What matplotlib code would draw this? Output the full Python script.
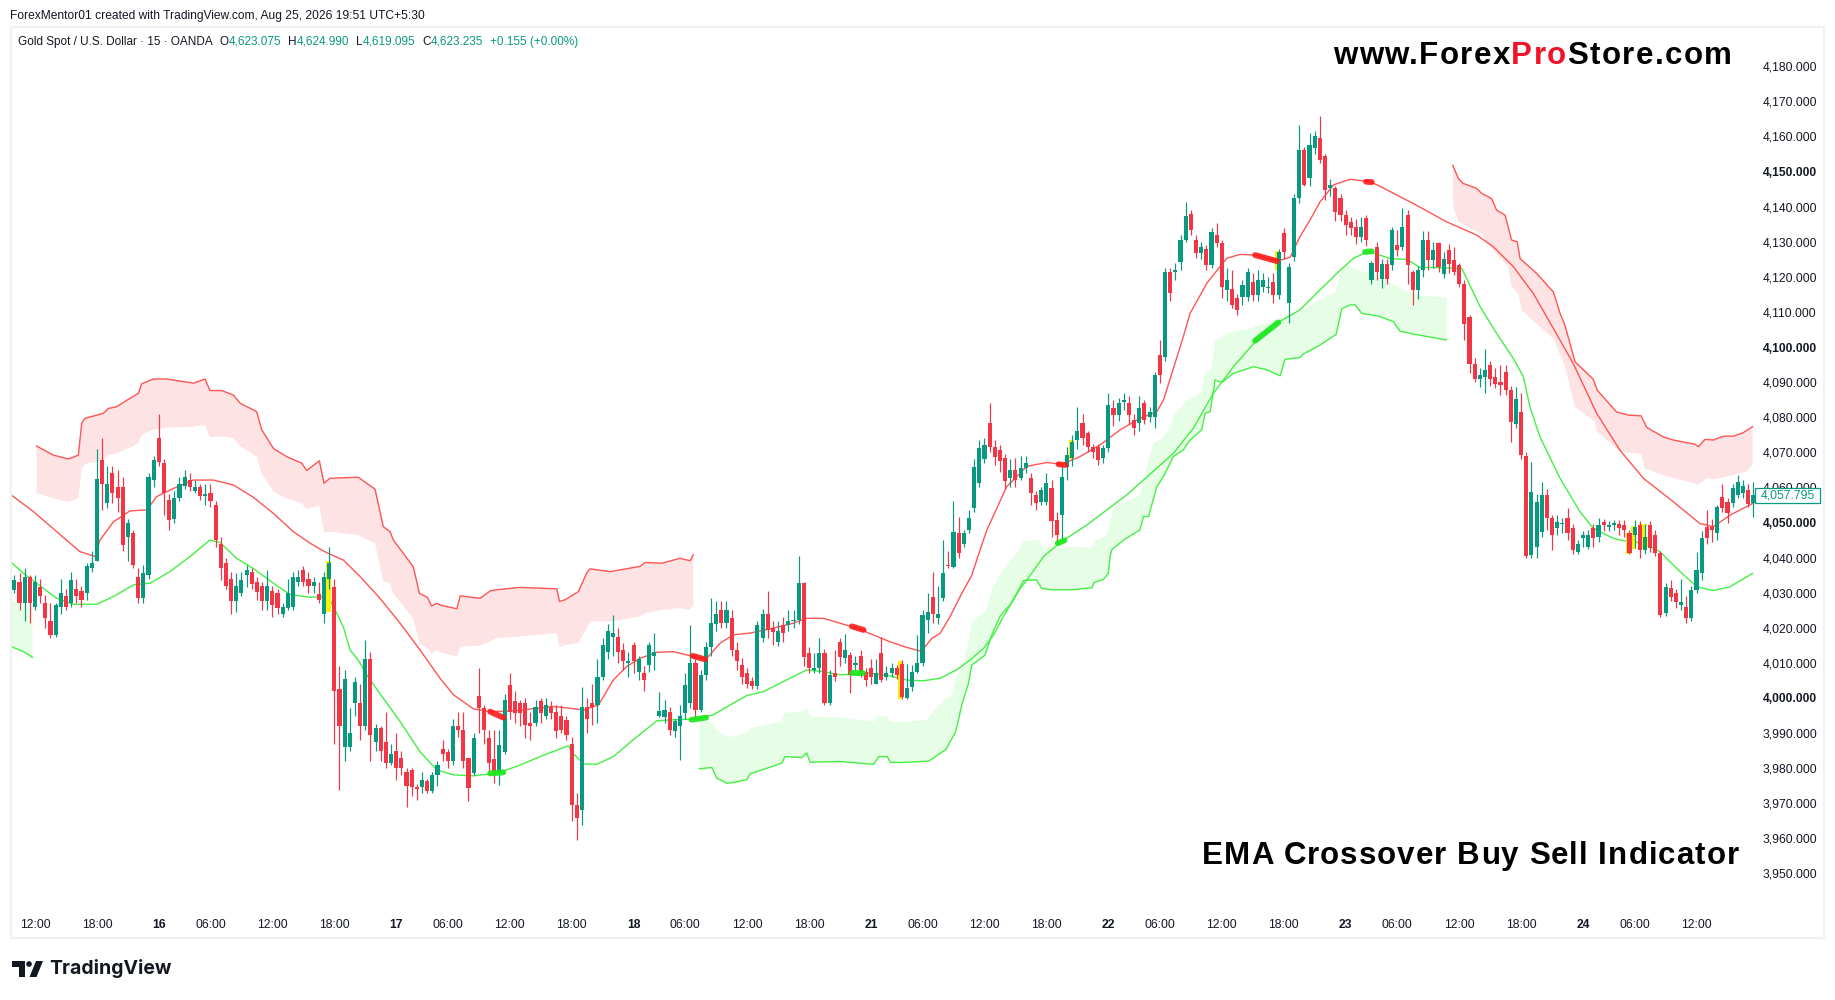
import numpy as np
import matplotlib
matplotlib.use('Agg')
import matplotlib.pyplot as plt
from matplotlib.font_manager import FontProperties
from matplotlib.patches import Rectangle, Circle, Polygon

# candles are sampled every 2 bars, first one at bar -8
opens = [
    4030.8,4033,4027,4034.5,4026,4031.5,4027,4022,4018,4026,
    4029,4027,4031,4030.5,4030,4037,4039,4067.8,4055.5,4064,
    4060,4060,4046,4047,4034.5,4028.5,4035,4062,4074,4067,
    4056.4,4051,4057,4060.5,4062,4059,4060,4057.5,4058.5,4055,
    4044,4038.5,4034,4027.5,4030,4035,4036,4033,4032,4027.5,
    4030.5,4030,4024,4025.5,4026,4033,4036.5,4034,4032,4029.5,
    4024,4034,4031.7,4002.5,3986,3986,3998.5,3998.5,3992,4011,
    3987.5,3991.5,3987.5,3981.5,3985,3983,3979,3979.5,3974.5,3974.5,
    3976.3,3973.5,3978,3985.5,3984.5,3982,3992,3991,3982.8,3978.6,
    4000.5,3997,3988.5,3982.5,3979,3984.7,4003.7,3999,3998.5,3998.5,
    3993,3993,3999,3995,3997.5,3996,3995,3993.8,3987,3969.5,
    3968,3997.5,3998.5,3998,4006,4013,4017.5,4017.5,4013.7,4009.9,
    4015,4007.5,4007,4009.4,4012,3995,3994.7,3996,3990.5,3992,
    3995.7,3998.5,4009.9,3996.6,4006.5,4014.6,4021,4025,4021.3,4022.7,
    4013.7,4009.4,4007,4004.7,4003.3,4017,4024,4019.9,4016,4020.8,
    4020.8,4021.8,4022.3,4032.7,4012.8,4008,4008.5,4012.8,3998.5,4007,
    4016,4011.3,4012.3,4009.4,4012,4007.5,4008.5,4004,4012.8,4006,
    4007,4008.5,4009.7,4000,4003.2,4007.5,4010,4022.2,4028.7,4022.7,
    4028.4,4038,4037.4,4046.9,4044,4047.9,4054.1,4061.2,4068,4078.3,
    4071.6,4070.7,4068.3,4062.6,4065,4062.6,4065.5,4062.6,4057.8,4055.9,
    4055.9,4059.8,4050.8,4052,4065.9,4068.3,4073.5,4078.3,4075.4,4071.6,
    4071.6,4068.3,4071.2,4082.6,4080.7,4084.2,4084,4079.2,4078.3,4084,
    4080.2,4080.2,4097.7,4097.3,4121.5,4121.5,4124.3,4130.5,4138,4130.5,
    4126.7,4128,4123.4,4131.9,4129.6,4116.3,4116.5,4114,4114.4,4114.4,
    4118.6,4114.8,4117.2,4116.8,4118.6,4114.8,4132.4,4112.6,4125.8,4142.4,
    4156.2,4148.1,4156.6,4159.5,4154.3,4145.2,4145.2,4142.4,4137.6,4135.7,
    4134.3,4131.5,4136.7,4119.1,4128.6,4119.5,4123.8,4123.3,4129,4128.6,
    4137.6,4121.4,4116.2,4122,4130.5,4124.8,4129.7,4120.8,4127.6,4124.8,
    4123.3,4118.1,4108.6,4095.3,4091,4091.5,4094.9,4091.5,4090,4092.9,
    4087.7,4078.2,4081.5,4068.9,4040.7,4043.1,4047.3,4057.8,4051.2,4048.3,
    4049.5,4051.2,4048.3,4041.7,4045.5,4043.1,4048.3,4045.9,4050.2,4048.8,
    4049.4,4049.7,4049.3,4046.9,4046.4,4049.3,4042.1,4049.3,4046.4,4041.2,
    4024.1,4031.2,4029.8,4026.5,4026,4022.7,4030.8,4035.5,4048.8,4048.8,
    4047,4057.3,4055.9,4055.5,4057.8,4058.5,4059.2,4055.5,
]
closes = [
    4033.6,4027,4034.5,4027,4033,4029,4022.7,4018,4026.5,4030,
    4026,4033.5,4029,4028,4037.5,4038.5,4062.5,4061,4061,4058.5,
    4057,4043.5,4050,4038,4028.5,4035.5,4063,4067.8,4067.3,4058.3,
    4050.7,4057,4061,4063,4060,4060,4057.5,4058,4056,4045,
    4037,4032,4027.5,4032,4033.5,4036.5,4032.5,4030.3,4027.5,4032,
    4026.5,4025.5,4026,4030,4034.5,4034.5,4033,4032,4033,4028,
    4034.5,4038.5,4002,3992,4005.5,3990,4004.5,3992,4011,3989.5,
    3991.5,3985,3981.5,3984,3980,3980,3975,3974.7,3974,3976.5,
    3973.5,3978,3981,3984,3982,3992,3991,3982,3974.3,3988.5,
    3997,3991,3981.5,3979,3986.6,3999.5,3996,3995.7,3995.7,3992.3,
    3992,3997.5,3995.7,3998,3995.7,3990.5,3991,3989.5,3969.5,3965.8,
    3997.5,3994,3997.5,4006,4015,4019,4018.5,4013,4010.4,4010.4,
    4010.4,4011,4005,4015,4013,3996.2,3996.6,3991,3993.3,3995,
    4003.7,4010,3996.6,4006.6,4014.6,4021.5,4024,4021.3,4025,4013.7,
    4010.4,4006,4004,4003.3,4020.8,4024,4019.4,4018.9,4019,4018.5,
    4021.8,4022.3,4032.7,4011.8,4008.5,4008.5,4012.8,3998.5,4006.6,4006,
    4011.8,4013.7,4006.6,4009.9,4007.5,4005,4006,4007,4005,4007,
    4008.5,4006.6,4000.4,4002.7,4007.5,4010,4023.6,4024.6,4024,4024,
    4035.5,4037.5,4047.4,4041.2,4046.9,4051.2,4065.9,4071.2,4072.1,4071.6,
    4068.8,4067.4,4061.7,4065,4062.1,4065.5,4066.9,4058.3,4055.5,4059.3,
    4061.2,4050.3,4046.5,4063,4069.2,4073,4076,4074,4071.6,4070.2,
    4067.8,4071.2,4083.5,4080.7,4084,4084.8,4080.7,4076.9,4082.6,4079.2,
    4081.6,4092,4092,4121.5,4115.3,4122,4130.5,4137.2,4133.4,4126.7,
    4128.6,4123.4,4132.9,4129.6,4117.2,4119.1,4112,4110.6,4117.7,4121.5,
    4114.8,4119.1,4119.1,4117.2,4114.8,4127.2,4127.2,4122.9,4142.4,4156.2,
    4146.2,4157.6,4160,4153.3,4144.8,4146.2,4138.6,4137.6,4134.8,4133.8,
    4131.5,4134.3,4130.5,4123.9,4121.5,4123.8,4119.5,4133.3,4127.6,4134.2,
    4123.3,4116.2,4121.9,4130.5,4124.8,4127.6,4122.9,4125.2,4123.8,4121.4,
    4118.1,4106.7,4095.3,4091,4092,4093.4,4091,4089.6,4089.1,4087.7,
    4078.7,4085.3,4069.2,4040.5,4058.8,4055.9,4057.8,4051.2,4046.4,4050.2,
    4050,4046.9,4042.1,4044,4046.5,4046.4,4045.5,4049.3,4049.3,4049.3,
    4049.9,4048.3,4047.8,4041.2,4048.8,4042.1,4045.9,4042.6,4041.2,4023.6,
    4031.7,4028.8,4027.4,4027.4,4022.7,4030.8,4036.5,4045.5,4045.5,4047.8,
    4054.5,4054,4052.6,4059.7,4061.6,4060.5,4055.2,4057.8,
]
highs = [
    4035,4035.5,4037,4035,4035,4034,4029.3,4027,4027,4034,
    4031,4036,4034,4032,4038.5,4042,4071,4074,4066,4066,
    4065,4063,4051,4048,4037,4038,4064,4069,4081,4068,
    4058,4059,4063,4065,4064,4062,4061,4061,4061,4056,
    4046,4040,4036,4035.5,4036,4038,4037,4034.5,4033,4036.5,
    4032,4031,4027,4034,4036,4036.5,4037.5,4036,4034.5,4033,
    4036,4043,4034,4009,4008,3997,4006,4004,4016.5,4013,
    3992.5,3992,3996,3987,3990,3985,3980,3980,3975.5,3979,
    3977,3979,3982,3988,3985.5,3994,3996,3996,3983,3990,
    4008.5,3998,3991,3991,3991,4001,4007,4002,3999.5,4000,
    3996,3999.5,4000,4000,3999,3998,3998,3995,3989,3972.8,
    4003,4000,4004,4011,4017,4021,4023.7,4020,4015.6,4013,
    4016,4012,4009,4016,4018.5,4001.8,3999.5,3997.5,3994,3998,
    4007,4020.8,4011,4008,4016,4028.5,4027.5,4027.5,4027.5,4025,
    4016,4011.5,4008.5,4006,4022,4025.4,4030.5,4022,4022,4023.2,
    4025,4025,4040.5,4033,4014.6,4012.8,4017,4014,4008,4013.7,
    4017,4018.3,4013,4012,4013.7,4008.5,4011,4011,4017.5,4009,
    4010,4009.5,4010.7,4009.7,4009.4,4018,4025,4029.8,4036,4032,
    4045,4042,4056,4051.7,4048,4053.5,4068,4073.5,4074,4084,
    4073.5,4072,4069.5,4068,4068.5,4069,4069,4064,4059,4060,
    4064,4062,4053,4066.5,4071.6,4075,4083,4081,4076,4072.5,
    4072.5,4072,4087,4085,4085.5,4087,4086,4081,4086,4085,
    4083,4093,4102,4122.5,4122.5,4124,4132,4141.4,4139,4132,
    4130,4129,4134,4135.3,4130.5,4122.5,4122,4115,4119,4122.6,
    4121,4122,4121,4120,4121,4128,4133.8,4124,4143.5,4163.3,
    4157,4161,4161.5,4165.9,4155,4148,4146,4143.5,4139,4137,
    4136.5,4137,4137.5,4124.5,4130,4125,4125,4134.2,4133.3,4139.5,
    4139,4122,4123,4133,4133,4130,4130,4127,4129.5,4128.5,
    4124,4119,4109,4097,4094,4099.4,4096,4094,4095,4094.9,
    4089,4088.7,4086.8,4070,4067.3,4058,4061.6,4059.5,4052,4052,
    4051.2,4054,4049.5,4045,4047.5,4048,4049.5,4051.2,4051,4050.5,
    4050.8,4050.8,4050.8,4047.8,4050.6,4050.5,4049.7,4050.5,4048,4042,
    4032.8,4033.5,4031,4034,4029,4032,4041.5,4047.5,4053.5,4051,
    4055,4061,4057,4061,4063.5,4062,4061,4061.6,
]
lows = [
    4030,4025,4022,4021.5,4025,4027,4020,4017,4017.5,4024,
    4025,4026,4027,4026,4028,4036,4039,4053.6,4054,4055.5,
    4053,4042,4039,4037,4027,4027,4034,4060,4066,4052,
    4048,4050,4056,4059.5,4059,4058.5,4056.5,4055,4054.5,4043,
    4033.5,4031,4024,4024.5,4029,4031.5,4031,4028,4025,4025,
    4023,4024,4023,4025,4025,4032,4032,4030,4030,4027,
    4021.5,4031,3987,3973.8,3982,3985,3995,3988,3991,3982,
    3985,3982,3980,3981,3976.5,3978,3969,3972,3971,3973,
    3973,3973,3975,3982,3980,3981,3989,3980,3970.5,3978,
    3990,3987,3979,3975.7,3975.3,3984,3994,3993,3992,3988.5,
    3988,3992,3993,3994,3994,3988.5,3990,3988,3965,3959.6,
    3963.8,3990,3992.3,3993,4005,4011,4012,4010,4008,4006,
    4007,4005,4002,4007.5,4008,3994.7,3993,3989.5,3989,3982.4,
    3994,3997,3994,3996,4005,4012,4019,4020,4020,4012,
    4008,4004,4002.8,4002.5,4002.5,4016,4017,4015,4014.7,4016,
    4019,4020,4021,4009,4007,4007,4007,3998,3998,4004.7,
    4009,4010,4001.4,4008,4006,4003.5,4004,4004,4004.5,4005,
    4006,4005.5,3999.8,3999.8,4002,4007,4009,4018.4,4021.3,4021,
    4027.5,4037,4037,4040,4043,4047,4053,4060,4067,4070,
    4066.5,4064.5,4059.5,4060,4060,4062,4064,4055,4053.5,4055,
    4055,4046,4044,4045,4062,4066,4071,4072,4070,4068.5,
    4066.5,4067,4070,4077.5,4079,4082,4078,4075,4076,4078,
    4078.5,4076.9,4089.7,4096,4113,4119,4122,4130,4132,4125.5,
    4125,4122,4122.5,4128.5,4114,4113,4111,4109.2,4112,4113,
    4113,4113,4115.7,4115.5,4112.6,4113.8,4125,4106.8,4124.5,4141,
    4146,4146,4155,4152.5,4142,4143,4136,4136,4132,4132,
    4129.5,4130,4128.8,4118,4119,4116.7,4118,4122,4126,4127.6,
    4118,4112,4113.8,4120,4122,4122.4,4121.5,4119.6,4121,4120.5,
    4117,4102,4092.7,4090,4088.7,4086.8,4089,4088.2,4086.4,4086.3,
    4073,4077,4068,4040,4040,4040,4046,4048,4042.1,4046.5,
    4047,4045,4041,4041,4043,4042.5,4043,4044.5,4047.5,4047.5,
    4048,4046.5,4046,4041,4042.6,4039.8,4041,4041.5,4040.5,4023,
    4023.5,4027.5,4025.5,4025,4021.5,4022,4030,4033.5,4044,4044.5,
    4045,4053,4050,4054.5,4057,4057,4054.5,4051.5,
]

# slow and fast EMA lines as bar / price pairs
red_ema_bar = [-9.7,-0.6,8.4,17.4,23.3,25.2,30.4,36.8,43.3,47.2,53.6,61.4,69.1,76.9,84.6,92.4,100.1,106.6,113,119.5,126,133.7,141.5,149.2,
               157,162.2,169.9,176.4,186.7,200.9,212.6,218.4,224.2,229.4,234.5,241,247.4,256.5,260.4,265.5,270.7,277.2,286.2,293.9,299.1,305.6,318.5,331.4,
               337.9,343,345,347.6,350.8,354.7,359.2,363.1,366.3,368.9,376.6,384.4,392.1,398,405.1,412.8,420.6,428.3,434.8,437.4,445.1,447.7,454.2,461.9,467.1,473.5,481.3,486.5,490.3,494.2,498.1,503.3,509.7,517.5,
               521.3,534.2,547.1,558.8,565.2,573,580.7,588.5,596.2,605.3,614.3,623.4,635,645.3,650.5,657,665.7]
red_ema = [4058.1,4053.1,4047.4,4041.7,4040.3,4045,4050.2,4053.3,4053.6,4057.4,4059.7,4062.1,4062.1,4060.7,4057.2,4052.6,4047.4,4044.1,4041.4,4039.3,4034.6,4028.4,4021.3,4013.7,
           4005.6,4000.9,3996.9,3996.1,3996.4,3997.6,3996.6,3998,4005.2,4009,4011.3,4013,4013.2,4011.6,4011.3,4015.6,4018,4018.5,4019.9,4021.3,4022.7,4022.7,4019.9,4016,
           4014.4,4013.4,4014.6,4017,4018.4,4023.2,4029.8,4035,4042.2,4047.8,4060.2,4066,4067.1,4066.6,4068.8,4072.1,4076.4,4079.7,4081.6,4084.9,4103,4109.6,4118.2,4125.3,4126.4,4126.2,4124.5,4125.6,4131.5,4136.2,4141.4,4146.2,4147.8,4147.1,
           4145.8,4140.9,4135.7,4131.9,4128.6,4122.9,4115.3,4105.3,4095.3,4081.1,4070.6,4062.6,4055.9,4049.7,4048.8,4052.1,4055.4]

green_ema_bar = [-9.7,-4.5,0.6,8.4,14.9,23.9,30.4,38.1,44.6,52.3,60.1,67.8,71.7,78.1,84.6,92.4,98.8,106.6,113.7,116.3,119.5,122.1,125.3,128.5,135,141.5,149.2,155.7,
                 162.2,169.9,179,186.7,195.8,206.7,208.7,212.6,217.7,224.2,231.9,241,247.4,256.5,262.9,269.4,275.9,282.3,290.1,299.1,305.6,312,323.7,331.4,
                 337.9,344.3,350.8,357.2,362.4,367.6,371.5,375.3,379.2,381.8,384.4,390.9,397.3,407.7,423.2,441.2,449,456.7,464.5,473.5,481.3,490.3,498.1,504.6,511,516.8,
                 521.3,525.2,531.6,536.8,544.6,553,555.5,560.1,566.5,573,576.9,579.4,583.3,591.1,598.8,604,611.7,617.6,623.4,629.8,637.6,644.1,650.5,657,665.7]
green_ema = [4039,4035.5,4032.7,4028.4,4026.7,4026.7,4028.9,4032.2,4032.7,4036,4040.3,4045,4044.3,4039.8,4036.9,4032.7,4029.5,4028.7,4028.9,4025.1,4020.3,4013.7,4010.8,4006.6,3999.9,3993.3,3984.7,3979.5,
             3978.1,3977.8,3978.6,3980.5,3983.3,3986.4,3984.1,3981.2,3981.1,3983.3,3988.1,3993.5,3993.8,3994,3995.2,3998,4000.7,4001.8,4004.7,4008,4007.5,4006.6,4007,4006.3,
             4005.1,4004.9,4005.6,4008,4010.8,4014.1,4017.9,4023.2,4027.9,4031.2,4033.6,4040.3,4044.3,4049.3,4057.9,4069.7,4076.9,4086.8,4094.4,4102,4106.8,4110.6,4116.3,4121,4125.3,4127.2,
             4126.2,4125.2,4125,4122.7,4122.6,4122.4,4118.6,4111.5,4103.9,4096.7,4091.5,4083,4074.4,4062.6,4053.1,4048.3,4045.5,4044.5,4044.2,4041.7,4036,4031.7,4030.6,4031.7,4035.5]

# red resistance band, first stretch
red_band1_bar = [0.6,7.1,12.9,16.8,18.1,19.4,26.5,28.4,31.7,36.8,40.1,41.3,45.9,51,61.4,65.9,67.8,72.4,76.9,79.5,85.9,87.9,92.4,97.5,103.4,105.3,110.2,112,114.3,125.3,131.8,135,137.6,138.9,146.6,149,152.1,153.7,155.7,
                 157,163.5,164.8,172.5,176.4,178.3,188,202.2,203.3,205.5,210.6,213.8,215.1,222.9,234.5,236.5,242.9,250,253.9,255.2]
red_band1_top = [4071.8,4069.2,4068.1,4069.2,4078.3,4079.7,4081.1,4082.5,4083,4085.4,4086.8,4089.5,4090.9,4090.9,4089.7,4090.9,4087.6,4087.6,4086.3,4084,4081.6,4076.4,4071.1,4068.8,4066.9,4064.8,4067.6,4061.2,4062.6,4062.9,4059.5,4048.8,4047.4,4045,4037.4,4029.8,4028.7,4026.2,4027,
                 4026.5,4025.4,4029.1,4028.4,4030.5,4030.8,4031.5,4031.1,4027.5,4028,4030.3,4035.6,4036.8,4036,4037.5,4038.6,4038.4,4039.8,4039.1,4040.8]
red_band1_bot = [4058.5,4056.9,4055.8,4056.9,4065.4,4066.7,4067.8,4069.2,4069.7,4071.4,4072.6,4074.9,4076.5,4077,4077.3,4077.8,4074.3,4074.6,4074,4071.8,4068.8,4064,4058.8,4056.9,4055.5,4053.8,4054.8,4047.2,4047.4,4046.4,4044.1,4033.2,4032.7,4029.8,4022.7,4015.6,4014.2,4012.7,4013.7,
                 4013,4011.8,4014.7,4014.9,4016.1,4017,4017.5,4018.5,4014.5,4015.1,4015.6,4019.9,4021.8,4021.8,4023.2,4024.2,4025.1,4025.6,4025.1,4026.5]

# red band, second stretch
red_band2_top_bar = [549.5,551.7,553.6,558.8,560.7,564.6,566.5,569.8,572.3,574.5,575.6,582,588.5,591.1,593,596.9,604,605.5,613,617.6,622.5,624.7,631.1,635,643.4,644.7,647.3,650.5,654.4,658.3,662.1,665.7]
red_band2_top = [4151.8,4148,4146.6,4145.2,4143.8,4142.3,4139,4137.6,4130.5,4130,4125.2,4121,4115.7,4109.6,4106.2,4095.8,4090.8,4087.7,4081.5,4080.6,4080.4,4077.1,4074.4,4073.5,4072.3,4071.6,4073.7,4073.5,4074.6,4074.6,4075.6,4077.3]
red_band2_bot_bar = [549.5,549.7,551.7,560.1,565.2,571,572.3,574.9,576.2,583.3,588.5,593,596.9,604.6,605.5,614.3,622.5,624,631.1,643.4,644.7,647.9,651.1,658.3,663.4,665.7]
red_band2_bot = [4151.8,4140,4135.7,4132.4,4127.6,4122.9,4117.2,4115.3,4110.5,4105.8,4102.4,4094.4,4083,4078.7,4075.9,4070.2,4069.5,4065.4,4063.5,4061.1,4060.7,4062.6,4062.3,4063.5,4064.5,4066.4]

# green support band, stub at the left edge
green_band0_bar = [-9.7,-4.5,-1]
green_band0_top = [4027.9,4026.7,4025.1]
green_band0_bot = [4014.8,4013.2,4011.6]

# green band, main stretch
green_band1_top_bar = [257.5,262.3,264.2,268.1,270.7,275.9,277.2,289.4,290.7,297.2,299.1,300.4,312,325,327.1,330.3,331.5,335.3,
                       345.6,348.2,352.1,355.3,357.2,359.2,361.8,363.1,365,368.9,370.8,375.3,381.8,383.1,388.9,390.9,409.6,410.9,415.4,418,428.3,430.9,433.5,436.1,440,441.9,446.4,452.2,453.5,456.1,457.4,464.5,471,482.6,490.3,495.5,504.3,505.6,508.4,512.3,521.3,529.1,535.5,547.1]
green_band1_top = [3993.3,3993.3,3990.9,3989,3989,3990,3991.4,3993.3,3995.7,3996.1,3997.1,3994.7,3994.5,3993.3,3994.9,3994.7,3993.3,3993.1,
                   3993.7,3996.1,3999.4,4000.8,4006.1,4008.9,4015.6,4021.3,4022.7,4025.1,4030.8,4036.5,4042.6,4044.6,4045,4043.1,4042.9,4044.6,4046.5,4054.1,4057.9,4065.9,4072.6,4073.5,4076.9,4081.1,4084.5,4087.3,4092.5,4094,4102,4104.4,4105.3,4108.2,4110.1,4112.5,4115.8,4121,4123.4,4122,4120.1,4116.7,4114.8,4114]
green_band1_bot_bar = [257.5,262.3,264.2,268.1,270.7,275.9,277.2,289.4,290.7,297.2,299.1,300.4,312,325,327.1,330.3,331.5,335.3,
                       346.4,353,356.8,357.9,359.2,361.8,363.1,368.2,370.8,374,376.6,377.9,380.5,383.1,385.7,388.2,390.2,394.7,401.2,409.6,410.5,414.1,416,416.7,417.3,421.9,428.3,429.6,431.6,434.8,437.4,441.2,445.1,447.7,452.2,453.5,455.5,457.4,460,464.5,472.3,477.4,482.6,484.5,490.3,491.6,498.1,504.3,506.5,509.7,511.7,514.2,521.3,526.5,529.1,534.2,547.1]
green_band1_bot = [3979.8,3980.2,3977.2,3975.7,3975.9,3976.7,3978.4,3981.4,3983.3,3983,3984.3,3981.7,3981.9,3981.1,3983.3,3983.3,3981.7,3981.6,
                   3982,3985.3,3990.3,3993.7,3998,4004.2,4009.4,4012.2,4017.9,4023.2,4025.5,4026.5,4029.8,4033.4,4033.6,4033.6,4031.2,4030.8,4030.8,4031.4,4032.9,4033.8,4035.5,4040.3,4042.2,4045,4047.9,4051.7,4051.7,4060.2,4063.1,4068.8,4070.7,4073.5,4076.4,4081.1,4081.6,4090.6,4089.9,4092.5,4094.4,4093.5,4091.8,4096.5,4097,4098,4100.6,4103.6,4110.9,4112,4112,4109.6,4108.7,4107.2,4104.5,4103.7,4102]

# thick crossover signals: start bar, end bar, start price, end price
sell_bar0 = [176.4,254.9,316.6,396.7,472.9,515.9]
sell_bar1 = [181.5,259.7,321.1,399.3,481.3,518.1]
sell_p0 = [3996.1,4012,4020.4,4066.6,4126.2,4147.1]
sell_p1 = [3994.4,4011,4019.4,4066.4,4124.5,4147]
buy_bar0 = [176.4,254.5,316.6,396.4,472.9,515.5]
buy_bar1 = [181.5,260.1,320.8,399,481.9,518.1]
buy_p0 = [3978.5,3993.8,4007.1,4044.1,4101.8,4127.1]
buy_p1 = [3978.8,3994.4,4007.1,4044.9,4107,4127.3]

# yellow highlighted candles: candle number, top price, bottom price
yellow_k = [61,172,205,245,313,314,316,317]
yellow_top = [4039,4010.5,4073.5,4127.5,4047,4049,4049.5,4046]
yellow_bot = [4024.5,3999.8,4068,4122,4041,4042.5,4042.5,4043]

y_ticks = np.arange(3950, 4181, 10)
bold_ticks = [4000, 4050, 4100, 4150]
x_tick_bars = [0,24,48,68,92,116,140,160,184,208,232,252,276,300,324,344,368,392,416,436,460,484,508,528,552,576,600,620,644]
x_tick_labels = ['12:00','18:00','16','06:00','12:00','18:00','17','06:00','12:00','18:00','18','06:00','12:00','18:00','21',
                 '06:00','12:00','18:00','22','06:00','12:00','18:00','23','06:00','12:00','18:00','24','06:00','12:00']
last_price = 4057.795

UP = '#089981'
DOWN = '#F23645'
RED_LINE = '#FF5555'
GREEN_LINE = '#44F044'
RED_FILL = '#FDE3E3'
GREEN_FILL = '#E6FDE6'
TEXT = '#131722'
FONT = 'Liberation Sans'

W, H = 1835, 1000
fig = plt.figure(figsize=(W / 100, H / 100), dpi=100, facecolor='white')

# chart box, pixels converted to figure fraction
left, right, top, bottom = 10.5, 1824, 27, 938
ax = fig.add_axes([left / W, 1 - bottom / H, (right - left) / W, (bottom - top) / H])
ax.set_xlim(-9.5, 693.4)
ax.set_ylim(3931.6, 4191.2)
for s in ax.spines.values():
    s.set_color('#F0F1F4')
    s.set_linewidth(1.6)

# bands
for xt, yt, xb, yb, fc, lc, edge in [
    (red_band1_bar, red_band1_top, red_band1_bar, red_band1_bot, RED_FILL, RED_LINE, 'top'),
    (red_band2_top_bar, red_band2_top, red_band2_bot_bar, red_band2_bot, RED_FILL, RED_LINE, 'top'),
    (green_band0_bar, green_band0_top, green_band0_bar, green_band0_bot, GREEN_FILL, GREEN_LINE, 'bot'),
    (green_band1_top_bar, green_band1_top, green_band1_bot_bar, green_band1_bot, GREEN_FILL, GREEN_LINE, 'bot'),
]:
    ax.fill(np.r_[xt, xb[::-1]], np.r_[yt, yb[::-1]], color=fc, lw=0, zorder=1)
    if edge == 'top':
        ax.plot(xt, yt, color=lc, lw=1.0, zorder=2)
    else:
        ax.plot(xb, yb, color=lc, lw=1.0, zorder=2)

# EMA lines
ax.plot(red_ema_bar, red_ema, color=RED_LINE, lw=1.0, zorder=2.5)
ax.plot(green_ema_bar, green_ema, color=GREEN_LINE, lw=1.0, zorder=2.5)

# candles
bars = -8 + 2 * np.arange(len(opens))
o = np.array(opens)
c = np.array(closes)
colors = np.where(c >= o, UP, DOWN)
yb = 2 * np.array(yellow_k) - 8
ax.bar(yb - 0.4, np.array(yellow_top) - np.array(yellow_bot), bottom=yellow_bot, width=1.9, color='#FFF200', lw=0, zorder=2.8)
ax.vlines(bars, lows, highs, colors=colors, lw=0.85, zorder=3)
ax.bar(bars, np.abs(c - o), bottom=np.minimum(o, c), width=1.6, color=colors, lw=0, zorder=3)

# crossover signals
for b0, b1, p0, p1 in zip(sell_bar0, sell_bar1, sell_p0, sell_p1):
    ax.plot([b0, b1], [p0, p1], color='#FF1A1A', lw=4.2, alpha=0.9, solid_capstyle='round', zorder=4)
for b0, b1, p0, p1 in zip(buy_bar0, buy_bar1, buy_p0, buy_p1):
    ax.plot([b0, b1], [p0, p1], color='#19E619', lw=4.2, alpha=0.9, solid_capstyle='round', zorder=4)

# price axis sits inside the box on the right
ax.yaxis.tick_right()
ax.set_yticks(y_ticks)
ax.set_yticklabels([f'{v:,.3f}' for v in y_ticks])
ax.tick_params(axis='y', length=0, pad=-44, labelsize=8.7, labelcolor=TEXT)
for t, v in zip(ax.get_yticklabels(), y_ticks):
    t.set_fontfamily(FONT)
    t.set_zorder(6)
    if v in bold_ticks:
        t.set_fontweight('bold')

ax.set_xticks(x_tick_bars)
ax.set_xticklabels(x_tick_labels)
ax.tick_params(axis='x', length=0, pad=-13.5, labelsize=8.7, labelcolor=TEXT)
for t in ax.get_xticklabels():
    t.set_fontfamily(FONT)
    if ':' not in t.get_text():
        t.set_fontweight('bold')

# last price tag
ax.add_patch(Rectangle((0.96195, last_price - 2.15), 0.03584, 4.3, transform=ax.get_yaxis_transform(),
                       fc='white', ec=UP, lw=0.9, zorder=7, clip_on=False))
ax.annotate(f'{last_price:,.3f}', xy=(0.97987, last_price), xycoords=('axes fraction', 'data'),
            ha='center', va='center', fontsize=8.7, family=FONT, color=UP, zorder=8, annotation_clip=False)

# overlay in pixel units for the static text around the chart
ov = fig.add_axes([0, 0, 1, 1], facecolor='none')
ov.set_xlim(0, W)
ov.set_ylim(H, 0)
ov.axis('off')
renderer = fig.canvas.get_renderer()


def chain(x, y, parts, **kw):
    # writes consecutive strings, each starting where the last ended
    for txt, col, gap in parts:
        t = ov.text(x, y, txt, color=col, va='center', ha='left', **kw)
        x = t.get_window_extent(renderer).x1 + gap


def spaced(x, y, txt, cols, gap, size):
    # bold text with extra letter spacing, drawn one character at a time
    fp = FontProperties(family=FONT, weight='bold', size=size)

    def width(s):
        return renderer.get_text_width_height_descent(s, fp, False)[0]

    for j, ch in enumerate(txt):
        if ch == ' ':
            continue
        cx = x + width(txt[:j + 1]) - width(ch) + j * gap
        ov.text(cx, y, ch, color=cols[j], fontproperties=fp, ha='left', va='baseline')


ov.text(10, 16, 'ForexMentor01 created with TradingView.com, Aug 25, 2026 19:51 UTC+5:30',
        fontsize=8.65, family=FONT, color=TEXT, va='center')
chain(18, 42, [('Gold Spot / U.S. Dollar · 15 · OANDA', TEXT, 7), ('O', TEXT, 0), ('4,623.075', UP, 7),
               ('H', TEXT, 0), ('4,624.990', UP, 7), ('L', TEXT, 0), ('4,619.095', UP, 7),
               ('C', TEXT, 0), ('4,623.235', UP, 7), ('+0.155 (+0.00%)', UP, 0)],
      fontsize=8.45, family=FONT)

wm1 = 'www.Forex'
wm2 = 'Pro'
wm3 = 'Store.com'
spaced(1333, 64, wm1 + wm2 + wm3, ['black'] * len(wm1) + ['#F01428'] * len(wm2) + ['black'] * len(wm3), 1.4, 22.5)
title = 'EMA Crossover Buy Sell Indicator'
spaced(1202, 864, title, ['black'] * len(title), 1.05, 22.5)

# TradingView logo
ov.add_patch(Polygon([(12, 961), (25, 961), (25, 977), (18.5, 977), (18.5, 966.5), (12, 966.5)], color=TEXT, lw=0))
ov.add_patch(Circle((29, 964), 2.8, color=TEXT, lw=0))
ov.add_patch(Polygon([(36, 961), (43, 961), (36.5, 977), (29.5, 977)], color=TEXT, lw=0))
ov.text(49, 969, 'TradingView', fontsize=14, family='Inter', fontweight='bold', color=TEXT, va='center')

fig.savefig('out.png', dpi=100, facecolor='white')
